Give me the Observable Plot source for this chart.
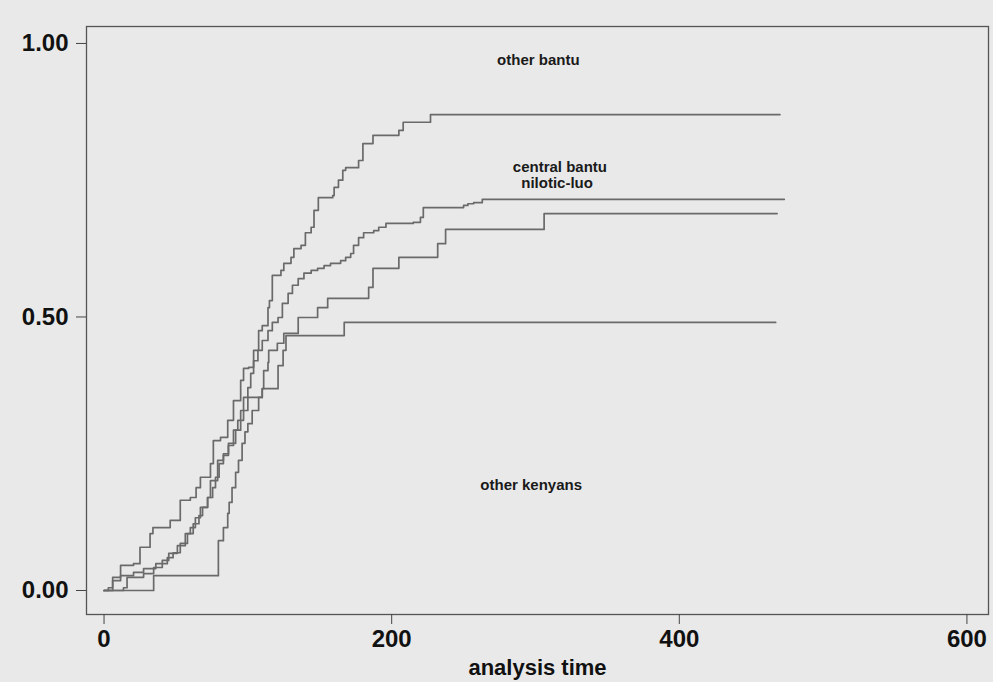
<!DOCTYPE html>
<html><head><meta charset="utf-8">
<script src="https://cdn.jsdelivr.net/npm/d3@7"></script>
<script src="https://cdn.jsdelivr.net/npm/@observablehq/plot@0.6"></script>
<style>
html,body{margin:0;padding:0;background:#e9e9e9;}
#chart{width:993px;height:682px;overflow:hidden}
</style></head><body><div id="chart"></div>
<script>
// Kaplan–Meier failure estimates by ethnic group
const otherBantuTime = [0,3,6,11.5,20.5,25,32,34,46,53,60,64,67,74,76,81,86,90,95,97,100.5,104,107.5,110,114,115,117,123,125,130,132,137,140,144,146,149,159,160,163,166,168,177,180,187,205,208,227,470];
const otherBantuFail = [0,.005,.024,.046,.049,.079,.104,.115,.128,.165,.170,.188,.207,.232,.274,.280,.311,.347,.384,.406,.408,.439,.475,.484,.517,.530,.576,.585,.598,.609,.625,.631,.654,.664,.695,.718,.722,.737,.750,.768,.773,.786,.817,.832,.841,.856,.870,.870];

const centralBantuTime = [0,6,11.5,20.5,27.5,36,44,48,53,58,62,66,68.5,72,75.5,77.5,80,83,86.5,90,93,95,97,100,102,104,107,110,114,117,121,124,128,131,135,139,144,148.5,153,157.5,164.5,168,171.5,173.5,177,180.5,187.5,191,196,215,220,222,250,253,257,263,264,473];
const centralBantuFail = [0,.018,.027,.033,.040,.049,.060,.069,.086,.104,.122,.137,.152,.170,.188,.207,.232,.247,.265,.293,.311,.329,.353,.371,.397,.420,.439,.457,.475,.490,.499,.525,.543,.558,.570,.580,.585,.589,.594,.598,.603,.609,.616,.631,.645,.654,.658,.664,.671,.673,.682,.700,.704,.707,.709,.715,.715,.715];

const niloticLuoTime = [0,13.5,16,27.5,34.5,40.5,45,51,56.5,60,63.5,67,72,74,79,83,86.5,91.5,95,97,100,110,111,114,114.5,120.5,125,135,148.5,155.5,184,187,205,232,237.5,306,468];
const niloticLuoFail = [0,.005,.024,.031,.042,.055,.068,.082,.104,.115,.133,.152,.170,.201,.238,.250,.269,.293,.311,.329,.353,.369,.402,.417,.439,.452,.470,.499,.517,.534,.554,.589,.609,.634,.660,.689,.689];

const otherKenyansTime = [0,34.5,79.5,83,86,87,89,91.5,93.5,96,98,100,103,107.5,110,121,124.5,126.5,167,467];
const otherKenyansFail = [0,.027,.091,.115,.141,.161,.188,.216,.238,.269,.290,.305,.329,.353,.369,.411,.439,.466,.490,.490];

const seriesNames = ["other bantu","central bantu","nilotic-luo","other kenyans"];
const labelTime = [302, 317, 315, 297];
const labelProb = [0.969, 0.773, 0.744, 0.192];

const xTicks = [0, 200, 400, 600];
const yTicks = [0, 0.5, 1];

const rows = [];
function add(group, times, probs){ times.forEach((t,i)=>rows.push({group, time:t, prob:probs[i]})); }
add(seriesNames[0], otherBantuTime, otherBantuFail);
add(seriesNames[1], centralBantuTime, centralBantuFail);
add(seriesNames[2], niloticLuoTime, niloticLuoFail);
add(seriesNames[3], otherKenyansTime, otherKenyansFail);
const labelRows = seriesNames.map((name,i)=>({name, time:labelTime[i], prob:labelProb[i]}));

const plot = Plot.plot({
  width: 993, height: 682,
  marginLeft: 86, marginRight: 5, marginTop: 26, marginBottom: 68,
  style: {background: "transparent", fontFamily: "'Liberation Sans', Arial, sans-serif", color: "#111"},
  x: {domain: [-12.2, 615]},
  y: {domain: [-0.0439, 1.031]},
  marks: [
    Plot.frame({stroke: "#555", strokeWidth: 1.3}),
    Plot.axisX({ticks: xTicks, tickSize: 10, tickPadding: 5, tickFormat: d => String(d), fontSize: 24, fontWeight: "bold", label: null, stroke: "#444"}),
    Plot.axisX({ticks: [], label: "analysis time", labelAnchor: "center", labelArrow: "none", labelOffset: 60, fontSize: 22, fontWeight: "bold"}),
    Plot.axisY({ticks: yTicks, tickSize: 10, tickPadding: 8, tickFormat: d => d.toFixed(2), fontSize: 24, fontWeight: "bold", label: null, stroke: "#444"}),
    Plot.line(rows, {x: "time", y: "prob", z: "group", curve: "step-after", stroke: "#6a6a6a", strokeWidth: 1.7}),
    Plot.text(labelRows, {x: "time", y: "prob", text: "name", fontSize: 15, fontWeight: "bold", fill: "#1a1a1a"})
  ]
});
document.getElementById("chart").appendChild(plot);
</script></body></html>
